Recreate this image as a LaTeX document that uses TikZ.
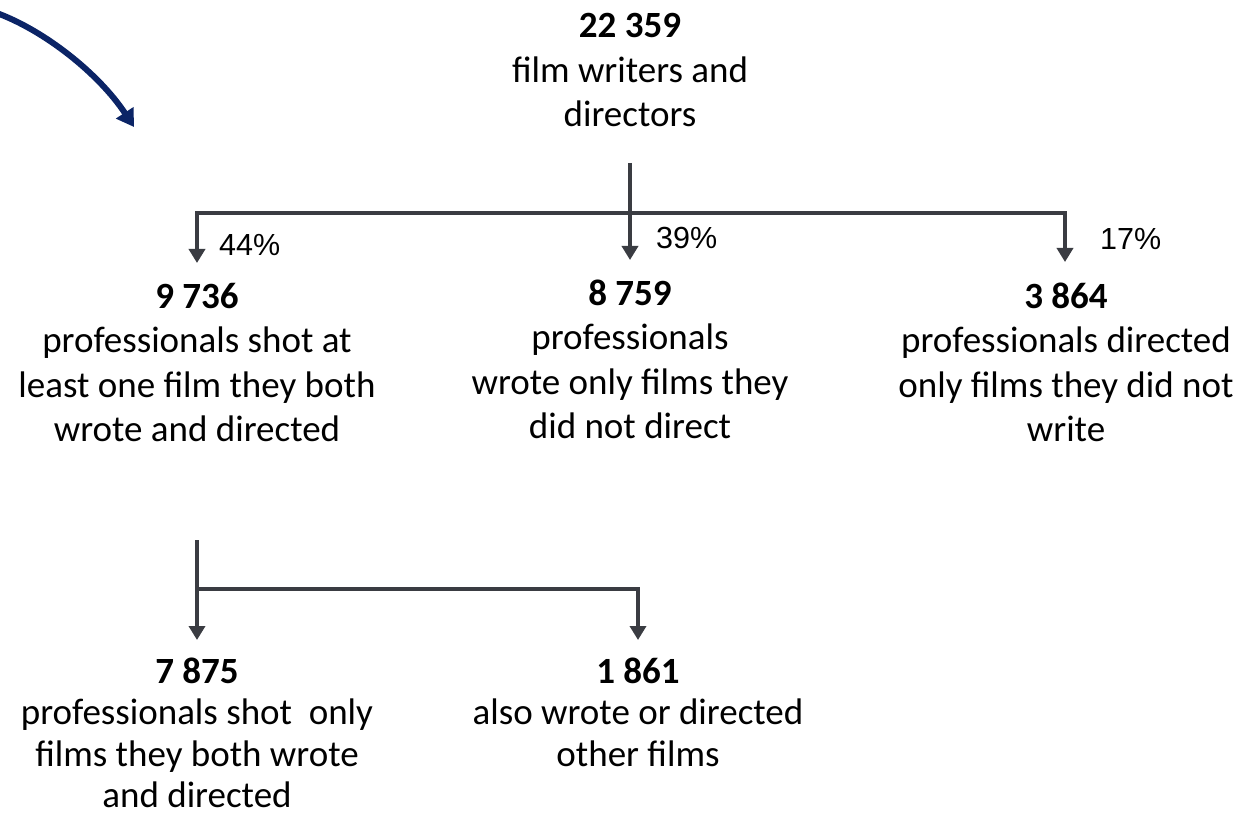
\documentclass[tikz,border=0pt]{standalone}
\usepackage{fontspec}
\setmainfont{Carlito}
\newfontfamily\arialf{Liberation Sans}
\usetikzlibrary{arrows.meta}
\definecolor{linegray}{HTML}{3A3C42}
\definecolor{navyarrow}{HTML}{0B2466}
\begin{document}
\begin{tikzpicture}[x=1pt,y=-1pt,
  blk/.style={align=center,font=\fontsize{37}{44.5}\selectfont,inner sep=0pt,anchor=base},
  blklow/.style={blk,font=\fontsize{37}{41.5}\selectfont},
  pct/.style={font=\arialf\fontsize{30.5}{34}\selectfont,inner sep=0pt,anchor=base west},
  conn/.style={line width=4.5pt,draw=linegray,line join=miter},
  tipstyle/.tip={Triangle[width=16pt,length=14pt]},
  arr/.style={conn,-tipstyle},
  darr/.style={conn,tipstyle-tipstyle}]
\useasboundingbox (0,0) rectangle (1251,821);

% text blocks (anchor = baseline of the last line)
\node[blk] (top) at (630,127) {\textbf{22 359}\\film writers and\\directors};
\node[blk] (n1) at (197,441.5) {\textbf{9 736}\\professionals shot at\\least one film they both\\wrote and directed};
\node[blk] (n2) at (630,438.5) {\textbf{8 759}\\professionals\\wrote only films they\\did not direct};
\node[blk] (n3) at (1066,441.5) {\textbf{3 864}\\professionals directed\\only films they did not\\write};
\node[blklow] (n4) at (197,807.5) {\textbf{7 875}\\professionals shot~ only\\films they both wrote\\and directed};
\node[blklow] (n5) at (638,766) {\textbf{1 861}\\also wrote or directed\\other films};

% percentages
\node[pct] (p44) at (219,256) {44\%};
\node[pct] (p39) at (656,249) {39\%};
\node[pct] (p17) at (1100,250) {17\%};

% upper connectors
\coordinate (tstart) at (630,163);
\coordinate (hl) at (197,213);
\coordinate (hr) at (1065,213);
\coordinate (tipA) at (197,263);
\coordinate (tipB) at (630,260);
\coordinate (tipC) at (1065,262);
\draw[arr] (tstart) -- (tipB);
\draw[darr] (tipA) -- (hl) -- (hr) -- (tipC);

% lower connectors
\coordinate (bstart) at (197,540);
\coordinate (bl) at (197,589);
\coordinate (br) at (638,589);
\coordinate (tipD) at (197,640);
\coordinate (tipE) at (638,640);
\draw[arr] (bstart) -- (tipD);
\draw[arr] (bl) -- (br) -- (tipE);

% navy curved arrow
\coordinate (nstart) at (-6,12);
\coordinate (ntip) at (134,127);
\draw[navyarrow,line width=6pt,-{Triangle[width=20pt,length=17pt]}]
  (nstart) .. controls (45,30) and (100,75) .. (ntip);
\end{tikzpicture}
\end{document}
